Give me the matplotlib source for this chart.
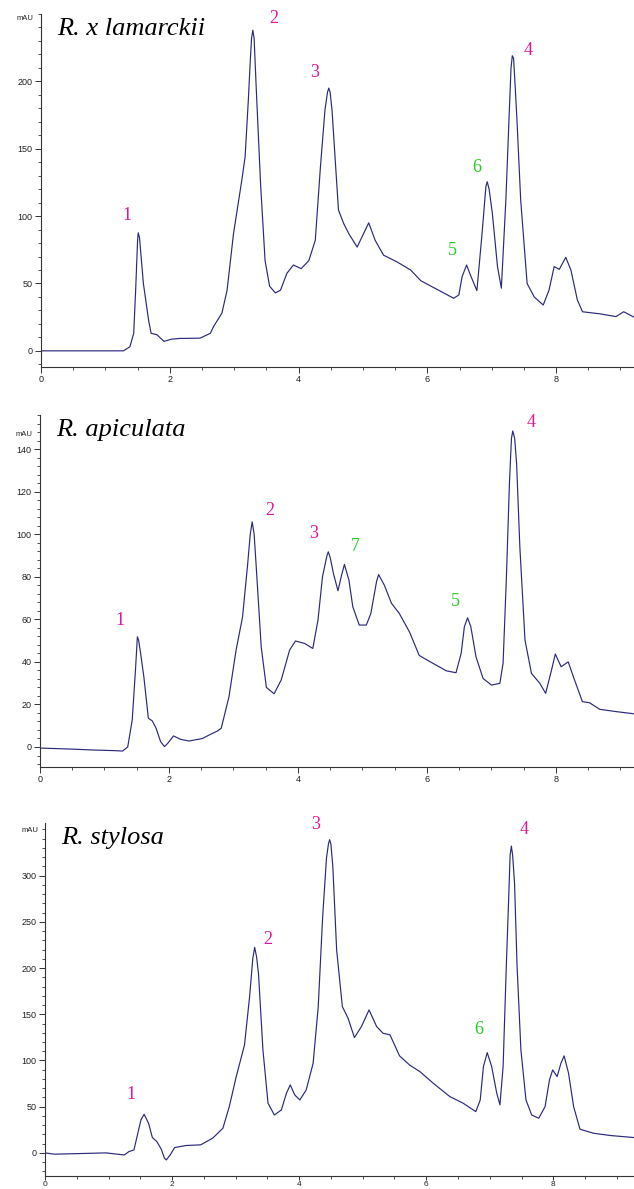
import matplotlib
matplotlib.use("Agg")
import matplotlib.pyplot as plt
from matplotlib.ticker import MultipleLocator
import matplotlib.transforms as mtransforms

# ---------------- data ----------------
titles = ["R. x lamarckii", "R. apiculata", "R. stylosa"]

t1 = [0.0, 1.28, 1.38, 1.44, 1.47, 1.50, 1.51, 1.53, 1.59, 1.67, 1.71, 1.80, 1.91, 2.03, 2.16, 2.47,
      2.63, 2.68, 2.81, 2.89, 2.99, 3.12, 3.17, 3.22, 3.25, 3.27, 3.29, 3.31, 3.34, 3.41, 3.48, 3.55, 3.64,
      3.72, 3.82, 3.92, 4.04, 4.16, 4.26, 4.34, 4.41, 4.45, 4.47, 4.49, 4.52, 4.57, 4.62, 4.70, 4.78, 4.91,
      5.01, 5.09, 5.19, 5.32, 5.53, 5.74, 5.90, 6.41, 6.49, 6.54, 6.61, 6.68, 6.77, 6.85, 6.91, 6.93, 6.96, 7.01,
      7.09, 7.15, 7.22, 7.27, 7.30, 7.32, 7.34, 7.36, 7.39, 7.45, 7.55, 7.66, 7.80, 7.89, 7.97, 8.05, 8.15, 8.23,
      8.33, 8.41, 8.69, 8.93, 9.05, 9.21]
a1 = [0, 0, 3, 13, 45, 82, 87.6, 84, 50, 23, 13, 12, 7, 8.7, 9.2, 9.4,
      13, 18, 28, 45, 87, 127, 144, 186, 215, 232, 238, 232, 198, 124, 67, 48, 43,
      45, 57.6, 63.7, 61, 67, 82, 136.6, 178.6, 192, 195, 192, 178.6, 141.5, 104.5, 94.6, 87, 77,
      87, 95, 82, 71, 66, 60, 52, 39, 41.5, 55, 63.7, 55, 44.7, 87, 122, 125.5, 120, 102,
      62.5, 46.5, 112, 173.6, 210, 219, 217, 200, 173.6, 112, 50, 40, 34, 45, 62.5, 60.5, 69.4, 60,
      37.8, 29, 27.4, 25.4, 29, 25]

t2 = [0.0, 0.5, 0.81, 1.15, 1.28, 1.36, 1.43, 1.48, 1.51, 1.53, 1.56, 1.61, 1.68, 1.74, 1.80, 1.87,
      1.93, 1.98, 2.07, 2.18, 2.31, 2.52, 2.62, 2.75, 2.81, 2.93, 3.04, 3.14, 3.22, 3.26, 3.29, 3.32,
      3.35, 3.43, 3.51, 3.63, 3.74, 3.87, 3.96, 4.10, 4.23, 4.31, 4.38, 4.45, 4.47, 4.50, 4.55, 4.62, 4.67, 4.72,
      4.79, 4.85, 4.95, 5.06, 5.13, 5.22, 5.25, 5.34, 5.45, 5.57, 5.73, 5.88, 6.14, 6.30, 6.45, 6.53, 6.58,
      6.63, 6.68, 6.76, 6.87, 7.00, 7.13, 7.18, 7.23, 7.28, 7.31, 7.33, 7.36, 7.39, 7.44, 7.52, 7.62, 7.75,
      7.84, 7.93, 7.99, 8.08, 8.19, 8.27, 8.41, 8.52, 8.68, 8.94, 9.21]
a2 = [-0.5, -1, -1.4, -1.7, -1.9, 0, 12.7, 36, 51.8, 50, 44, 33, 13.5, 12.3, 8.8, 2.5,
      0.2, 1.7, 5.2, 3.6, 2.8, 4, 5.6, 7.5, 8.8, 23.6, 45.5, 61, 86, 100, 105.8, 100,
      86, 47, 28, 25, 31.5, 45.5, 49.8, 48.7, 46.3, 59.6, 80, 90, 91.7, 89, 81.5, 73.4, 80, 85.8,
      78.4, 65.9, 57.3, 57.3, 62.8, 78, 81, 76, 67.5, 62.8, 54, 43, 38.5, 35.8, 34.9, 44, 56.5,
      60.7, 56.5, 42.4, 32.2, 29.1, 29.9, 39.3, 78.4, 125, 145, 148.5, 145, 133, 94, 50.2, 34.6, 29.9,
      25.2, 36, 43.7, 37.7, 40, 33, 21.3, 20.8, 17.7, 16.6, 15.6]

t3 = [0.0, 0.15, 0.96, 1.19, 1.25, 1.32, 1.40, 1.46, 1.51, 1.56, 1.63, 1.69, 1.76, 1.83, 1.88, 1.91,
      1.97, 2.04, 2.22, 2.45, 2.64, 2.80, 2.90, 3.01, 3.14, 3.22, 3.27, 3.30, 3.33, 3.36, 3.43, 3.51,
      3.61, 3.72, 3.80, 3.86, 3.93, 4.01, 4.11, 4.22, 4.30, 4.37, 4.43, 4.46, 4.48, 4.50, 4.53, 4.59, 4.68,
      4.77, 4.87, 4.98, 5.10, 5.22, 5.32, 5.43, 5.58, 5.74, 5.90, 6.11, 6.37, 6.58, 6.78, 6.85, 6.90,
      6.96, 7.03, 7.11, 7.16, 7.21, 7.26, 7.30, 7.32, 7.34, 7.36, 7.39, 7.43, 7.49, 7.57, 7.66, 7.77, 7.87,
      7.94, 7.99, 8.06, 8.12, 8.17, 8.24, 8.32, 8.42, 8.63, 8.90, 9.27]
a3 = [0, -1.4, 0, -1.8, -2.2, 1.4, 3.2, 21, 35.7, 41.8, 32, 16.6, 12.3, 4, -5.8, -7.6,
      -2.2, 5.8, 8, 8.7, 16, 26.7, 50, 82.6, 116.9, 169, 210, 222.5, 212, 194, 111.4, 53.8,
      41, 46.5, 64.6, 73.6, 62.8, 57.3, 68, 97, 158, 255.7, 318.8, 334, 339, 334, 309.8, 219.6, 158.3,
      145.7, 124.8, 136.7, 154.7, 136.7, 129.5, 127.7, 105, 95, 88, 75.4, 61, 53.8, 44.7, 57.3, 93.4,
      108.5, 93.4, 64.6, 52, 93.4, 201.6, 280, 322, 332, 322, 291.8, 201.6, 111.4, 57.3, 41, 37.5, 50,
      79, 89.8, 82.6, 97, 105, 86.2, 50, 25.6, 21.3, 18.8, 16.6]

# peak labels: (label, time, mAU, colour key)
labels1 = ["1", "2", "3", "4", "5", "6"]
lt1 = [1.34, 3.61, 4.25, 7.56, 6.39, 6.77]
lv1 = [100.8, 246.8, 206.7, 223.0, 74.8, 136.0]
lc1 = ["m", "m", "m", "m", "g", "g"]

labels2 = ["1", "2", "3", "7", "5", "4"]
lt2 = [1.24, 3.56, 4.24, 4.89, 6.44, 7.61]
lv2 = [59.6, 111.0, 100.5, 94.4, 68.5, 152.6]
lc2 = ["m", "m", "m", "g", "g", "m"]

labels3 = ["1", "2", "3", "6", "4"]
lt3 = [1.36, 3.50, 4.26, 6.83, 7.54]
lv3 = [62.8, 230.5, 355.0, 133.0, 349.5]
lc3 = ["m", "m", "m", "g", "m"]

yticks_major = [50, 20, 50]
yticks_minor = [10, 4, 10]
yticks_max = [200, 140, 300]
mau_pos = [246.8, 147.0, 349.0]

# ---------------- layout ----------------
W, H = 634, 1189
fig = plt.figure(figsize=(W / 100, H / 100), dpi=100)
fig.patch.set_facecolor("white")

panels = [
    dict(l=41, r=634, top=14, bot=367, xmax=9.21, ylim=(-12, 250), xlen=4, xpad=2),
    dict(l=40, r=634, top=415, bot=767, xmax=9.21, ylim=(-9.4, 156), xlen=4, xpad=2),
    dict(l=45, r=634, top=823, bot=1176, xmax=9.27, ylim=(-25, 357), xlen=3, xpad=0.5),
]
ts = [t1, t2, t3]
vs = [a1, a2, a3]
labs = [(labels1, lt1, lv1, lc1), (labels2, lt2, lv2, lc2), (labels3, lt3, lv3, lc3)]

line_col = "#2a2a7c"
mag = "#e0179b"
grn = "#22cc22"
axis_col = "#333333"

for i, p in enumerate(panels):
    ax = fig.add_axes([p["l"] / W, 1 - p["bot"] / H, (p["r"] - p["l"]) / W, (p["bot"] - p["top"]) / H])
    ax.plot(ts[i], vs[i], color=line_col, lw=0.85, solid_joinstyle="round")
    ax.set_xlim(0, p["xmax"])
    ax.set_ylim(*p["ylim"])
    for s in ["top", "right"]:
        ax.spines[s].set_visible(False)
    for s in ["left", "bottom"]:
        ax.spines[s].set_color(axis_col)
        ax.spines[s].set_linewidth(0.8)
    ax.xaxis.set_major_locator(MultipleLocator(2))
    ax.xaxis.set_minor_locator(MultipleLocator(0.5))
    ax.set_yticks(list(range(0, yticks_max[i] + 1, yticks_major[i])))
    ax.yaxis.set_minor_locator(MultipleLocator(yticks_minor[i]))
    ax.tick_params(axis="y", which="major", length=4, width=0.7, color=axis_col,
                   labelsize=6.5, pad=2, labelcolor="#222222")
    ax.tick_params(axis="x", which="major", length=p["xlen"], width=0.7, color=axis_col,
                   labelsize=6.5 if i < 2 else 6, pad=p["xpad"], labelcolor="#222222")
    ax.tick_params(axis="both", which="minor", length=2, width=0.6, color=axis_col)
    for lbl in ax.get_xticklabels() + ax.get_yticklabels():
        lbl.set_fontfamily("Liberation Sans")
    trans = mtransforms.blended_transform_factory(ax.transAxes, ax.transData)
    ax.text(-0.012, mau_pos[i], "mAU", transform=trans, ha="right", va="center",
            fontsize=5.5, family="Liberation Sans", color="#222222")
    ax.text(0.027, 0.958, titles[i], transform=ax.transAxes, ha="left", va="center",
            fontsize=19, style="italic", family="Liberation Serif", color="black")
    names, lt, lv, lc = labs[i]
    for n, x, y, c in zip(names, lt, lv, lc):
        ax.text(x, y, n, ha="center", va="center", fontsize=13, family="Liberation Serif",
                color=mag if c == "m" else grn)

fig.savefig("out.png", dpi=100, facecolor="white")
